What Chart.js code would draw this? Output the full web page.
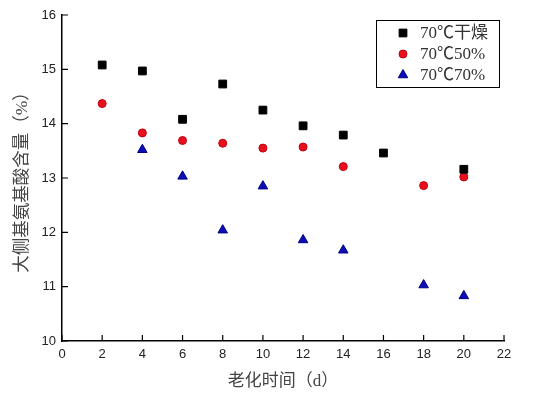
<!DOCTYPE html>
<html>
<head>
<meta charset="utf-8">
<script src="https://cdn.jsdelivr.net/npm/chart.js@4"></script>
<style>
  html, body { margin: 0; padding: 0; background: #fff; }
  #wrap { width: 560px; height: 396px; }
</style>
</head>
<body>
<div id="wrap"><canvas id="c" width="560" height="396"></canvas></div>
<script>
// data
const seriesNames = ['70℃干燥', '70℃50%', '70℃70%'];
const dryX = [2, 4, 6, 8, 10, 12, 14, 16, 20];
const dryY = [15.08, 14.97, 14.08, 14.73, 14.25, 13.96, 13.79, 13.46, 13.16];
const rh50X = [2, 4, 6, 8, 10, 12, 14, 18, 20];
const rh50Y = [14.37, 13.83, 13.69, 13.64, 13.55, 13.57, 13.21, 12.86, 13.02];
const rh70X = [4, 6, 8, 10, 12, 14, 18, 20];
const rh70Y = [13.52, 13.03, 12.04, 12.85, 11.86, 11.67, 11.03, 10.83];
const xTicks = [0, 2, 4, 6, 8, 10, 12, 14, 16, 18, 20, 22];
const yTicks = [10, 11, 12, 13, 14, 15, 16];

const toPts = (xs, ys) => xs.map((x, i) => ({ x: x, y: ys[i] }));

const cjk = '"Liberation Serif", "Noto Sans CJK SC", serif';

// legend box drawn by hand so it sits inside the plot like the original
const boxLegend = {
  id: 'boxLegend',
  afterDraw(chart) {
    const ctx = chart.ctx;
    const left = 376, top = 20, w = 123, h = 67;
    ctx.save();
    ctx.strokeStyle = '#000';
    ctx.lineWidth = 1;
    ctx.strokeRect(left + 0.5, top + 0.5, w, h);
    ctx.font = '17px ' + cjk;
    ctx.textBaseline = 'middle';
    chart.data.datasets.forEach((ds, i) => {
      const y = top + 13 + i * 21;
      ctx.fillStyle = ds.backgroundColor;
      ctx.strokeStyle = ds.borderColor;
      ctx.lineWidth = 1;
      Chart.helpers.drawPoint(ctx, { pointStyle: ds.pointStyle, radius: ds.pointRadius, rotation: 0, borderWidth: 1 }, left + 27, y);
      ctx.fillStyle = '#333';
      ctx.fillText(ds.label, left + 44, y + 1);
    });
    ctx.restore();
  }
};

new Chart(document.getElementById('c'), {
  type: 'scatter',
  data: {
    datasets: [
      { label: seriesNames[0], data: toPts(dryX, dryY), pointStyle: 'rect', pointRadius: 5.5,
        backgroundColor: '#000000', borderColor: '#000000', borderWidth: 1 },
      { label: seriesNames[1], data: toPts(rh50X, rh50Y), pointStyle: 'circle', pointRadius: 4,
        backgroundColor: '#e8101c', borderColor: '#c00010', borderWidth: 1 },
      { label: seriesNames[2], data: toPts(rh70X, rh70Y), pointStyle: 'triangle', pointRadius: 5.5,
        backgroundColor: '#0c0cb8', borderColor: '#000080', borderWidth: 1 }
    ]
  },
  options: {
    responsive: false,
    animation: false,
    layout: { padding: { top: 15, right: 56, left: 0, bottom: 0 } },
    plugins: { legend: { display: false }, tooltip: { enabled: false } },
    scales: {
      x: {
        type: 'linear', min: 0, max: 22,
        afterBuildTicks: s => { s.ticks = xTicks.map(v => ({ value: v })); },
        afterFit: s => { s.height = 55; },
        grid: { display: false, drawOnChartArea: false, tickLength: 0 },
        border: { display: true, color: '#000', width: 1.5 },
        ticks: { color: '#222', font: { family: '"Liberation Sans", Arial, sans-serif', size: 13 }, padding: 6, maxRotation: 0 },
        title: { display: true, text: '老化时间（d）', color: '#444', font: { family: cjk, size: 17 }, padding: { top: 6 } }
      },
      y: {
        type: 'linear', min: 10, max: 16,
        afterBuildTicks: s => { s.ticks = yTicks.map(v => ({ value: v })); },
        afterFit: s => { s.width = 62; },
        grid: { display: false, drawOnChartArea: false, tickLength: 0 },
        border: { display: true, color: '#000', width: 1.5 },
        ticks: { color: '#222', font: { family: '"Liberation Sans", Arial, sans-serif', size: 13 }, padding: 6 },
        title: { display: true, text: '大侧基氨基酸含量（%）', color: '#444', font: { family: cjk, size: 17.5 }, padding: { top: 12, bottom: 4 } }
      }
    }
  },
  plugins: [boxLegend, {
    // inward tick marks on both axes
    id: 'innerTicks',
    afterDraw(chart) {
      const ctx = chart.ctx, a = chart.chartArea;
      const xs = chart.scales.x, ys = chart.scales.y;
      ctx.save();
      ctx.strokeStyle = '#000';
      ctx.lineWidth = 1.2;
      ctx.beginPath();
      xTicks.forEach(v => { const px = xs.getPixelForValue(v); ctx.moveTo(px, a.bottom); ctx.lineTo(px, a.bottom - 6); });
      yTicks.forEach(v => { const py = ys.getPixelForValue(v); ctx.moveTo(a.left, py); ctx.lineTo(a.left + 6, py); });
      ctx.stroke();
      ctx.restore();
    }
  }]
});
</script>
</body>
</html>
